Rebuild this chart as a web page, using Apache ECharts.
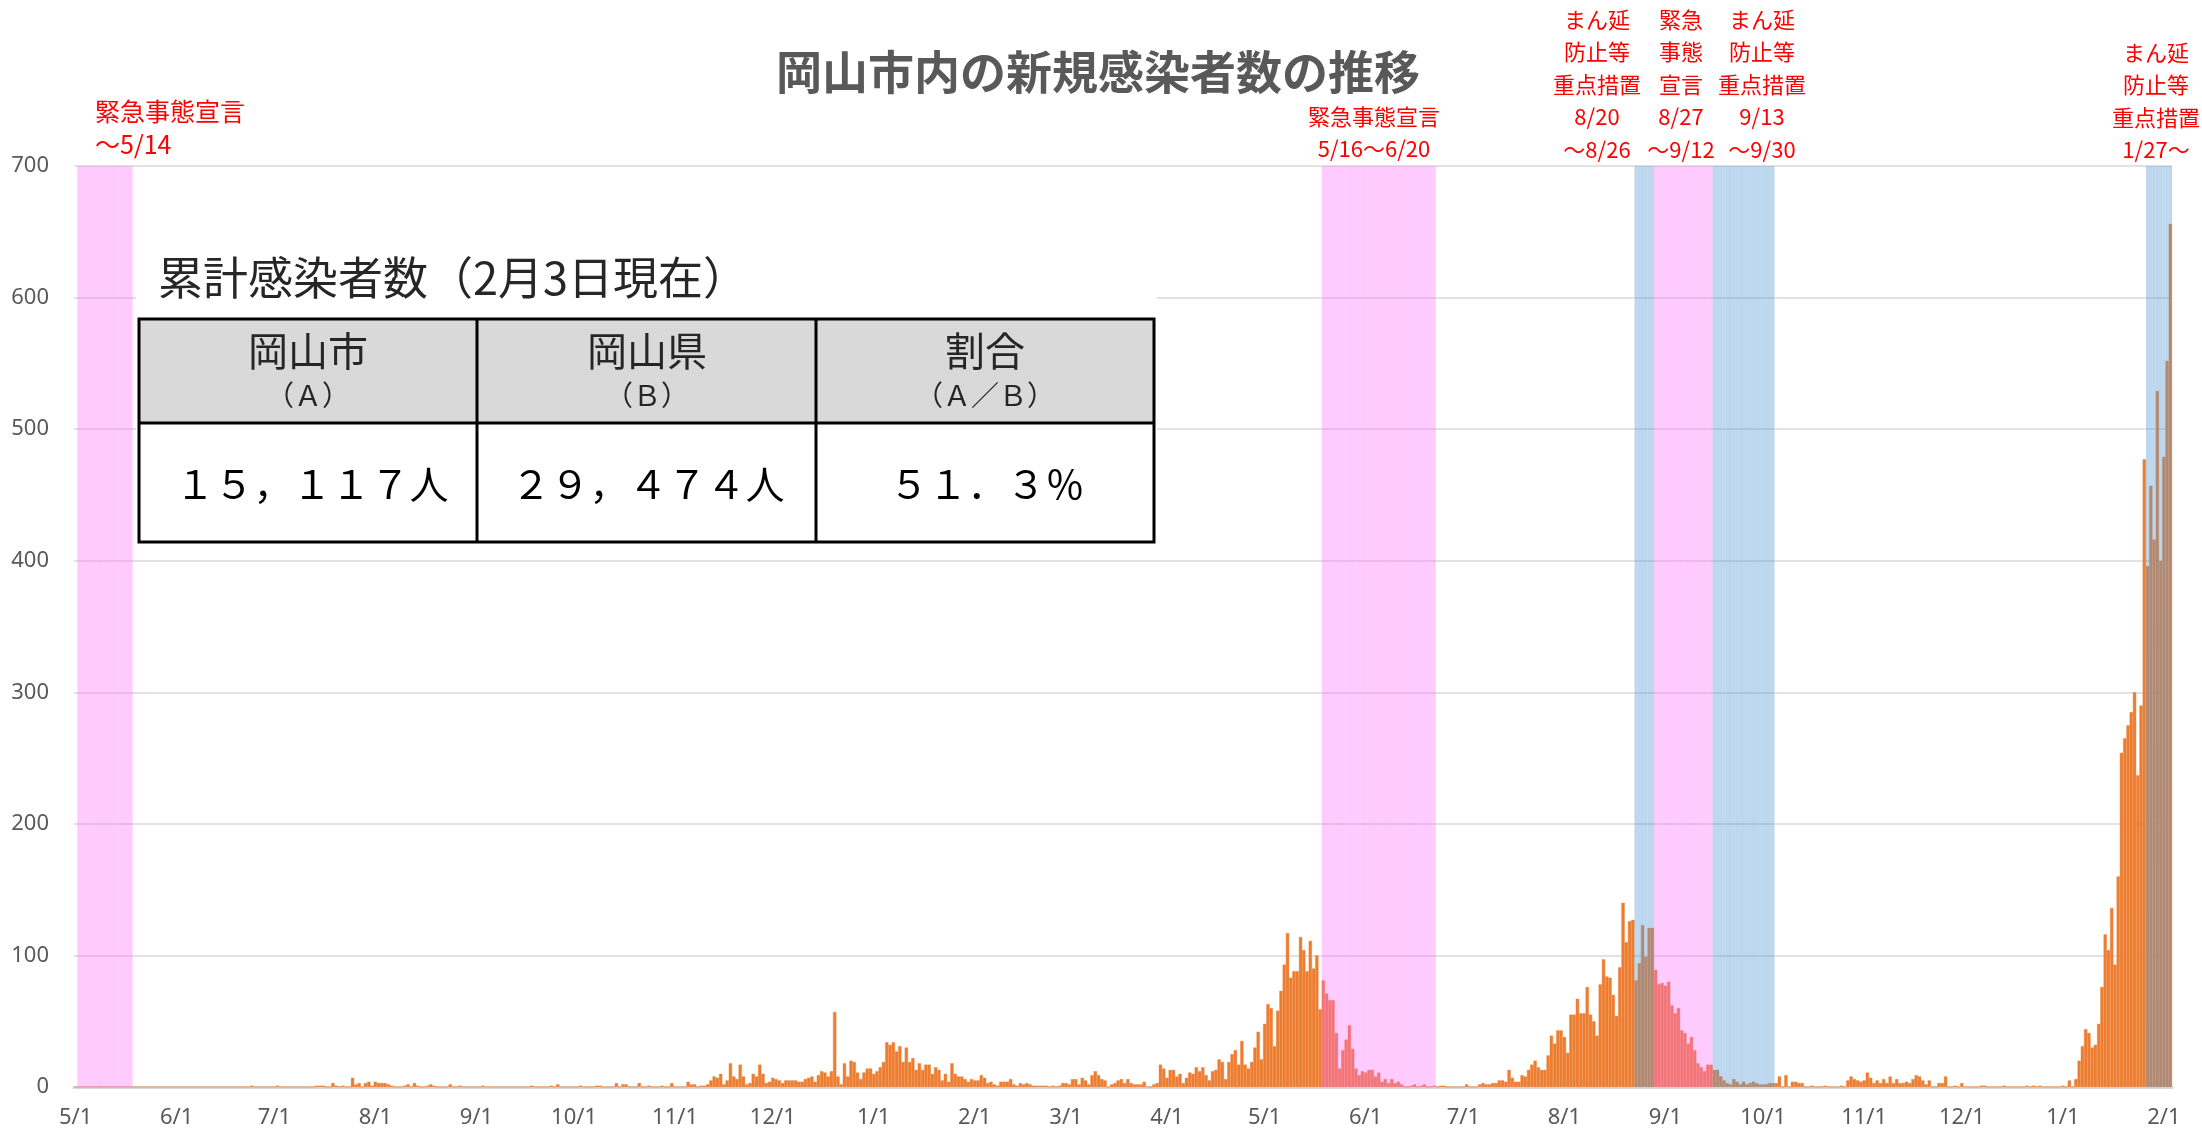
<!DOCTYPE html>
<html>
<head>
<meta charset="utf-8">
<script src="https://cdn.jsdelivr.net/npm/echarts@6/dist/echarts.min.js"></script>
<style>
  html, body { margin: 0; padding: 0; background: #fff; }
  #chart { width: 2202px; height: 1132px; }
</style>
</head>
<body>
<div id="chart"></div>
<script>
// 日別新規感染者数（岡山市）2020/5/1 〜 2022/2/3
const may2020 = [0,0,0,0,0,0,0,0,0,0, 0,0,0,0,0,0,0,0,0,0, 0,0,0,0,0,0,0,0,0,0, 0]
const jun2020 = [0,0,0,0,0,0,0,0,0,0, 0,0,0,0,0,0,0,0,0,0, 0,0,0,1,0,0,0,0,0,0]
const jul2020 = [0,1,0,0,0,0,0,0,0,0, 0,0,0,1,1,1,0,0,3,1, 0,1,0,0,7,2,3,0,3,4, 1]
const aug2020 = [4,3,3,3,2,1,0,0,0,1, 2,0,3,1,0,0,1,2,1,0, 0,0,0,2,0,0,1,0,0,0, 0]
const sep2020 = [0,0,1,0,0,0,0,0,0,0, 0,0,0,0,0,0,0,1,0,0, 0,0,0,1,0,2,0,0,0,0]
const oct2020 = [0,0,1,0,0,0,0,1,1,0, 0,0,0,3,0,2,2,0,0,0, 3,0,0,1,0,0,0,1,0,0, 3]
const nov2020 = [0,0,0,0,4,2,2,0,1,1, 2,5,8,7,10,2,5,18,8,6, 17,8,2,3,10,8,17,10,3,4]
const dec2020 = [7,6,5,3,5,5,5,5,4,4, 6,7,8,4,9,12,11,8,12,57, 8,2,18,8,20,19,11,6,11,14, 14]
const jan2021 = [10,12,15,19,34,32,34,27,31,19, 30,19,22,13,18,13,17,17,10,15, 13,5,10,4,18,10,8,8,6,4, 6]
const feb2021 = [5,5,9,7,3,4,2,1,4,4, 4,6,2,1,3,2,3,2,1,1, 1,1,1,0,1,0,1,3]
const mar2021 = [3,2,6,6,2,7,5,2,9,12, 9,6,5,0,2,3,5,6,3,6, 3,2,2,2,4,0,0,2,3,17, 14]
const apr2021 = [7,13,13,8,10,3,7,11,10,15, 12,15,9,5,12,13,21,19,6,19, 25,28,17,35,17,14,19,30,42,21]
const may2021 = [48,63,60,31,58,73,93,117,83,88, 88,114,104,88,111,90,100,59,81,71, 66,66,41,14,28,36,47,29,14,9, 12]
const jun2021 = [11,13,13,8,11,4,6,3,6,3, 4,2,0,0,1,2,0,1,2,0, 0,1,0,1,1,0,0,0,0,0]
const jul2021 = [0,2,0,0,0,2,3,2,2,3, 3,5,5,4,13,7,4,4,9,8, 13,17,20,15,13,13,24,39,33,43, 43]
const aug2021 = [38,26,55,55,67,56,56,76,55,50, 39,78,97,84,83,70,54,91,140,110, 126,127,81,94,123,99,121,121,89,78, 79]
const sep2021 = [77,80,62,56,60,43,41,33,38,28, 18,15,12,17,17,13,13,8,5,3, 2,6,4,2,4,2,3,4,3,2]
const oct2021 = [2,2,3,3,3,8,0,9,0,4, 4,3,3,0,0,1,0,0,0,1, 0,0,0,0,1,0,5,8,6,5, 4]
const nov2021 = [5,11,7,3,5,3,6,3,8,3, 6,3,3,4,3,6,9,8,5,2, 5,0,0,3,3,8,0,0,1,0]
const dec2021 = [3,0,0,0,0,0,1,1,0,0, 0,0,0,1,0,0,0,0,0,0, 1,0,1,0,1,0,0,0,0,0, 0]
const jan2022 = [1,0,5,0,6,20,31,44,41,30, 32,48,76,116,104,136,93,160,254,265, 275,285,300,237,290,477,396,457,416,529, 400]
const feb2022 = [479,552,656]

// 緊急事態宣言（ピンク）・まん延防止等重点措置（青）の期間
const pinkBands = [['2020/5/2', '2020/5/18'], ['2021/5/19', '2021/6/22'], ['2021/8/29', '2021/9/15']]
const blueBands = [['2021/8/23', '2021/8/28'], ['2021/9/16', '2021/10/4'], ['2022/1/27', '2022/2/3']]

const yTicks = [0, 100, 200, 300, 400, 500, 600, 700]

const daily = [].concat(may2020, jun2020, jul2020, aug2020, sep2020, oct2020, nov2020, dec2020,
  jan2021, feb2021, mar2021, apr2021, may2021, jun2021, jul2021, aug2021, sep2021, oct2021,
  nov2021, dec2021, jan2022, feb2022)

const dates = daily.map((_, i) => {
  const d = new Date(2020, 4, 1 + i)
  return d.getFullYear() + '/' + (d.getMonth() + 1) + '/' + d.getDate()
})

function bandData(ranges) {
  return dates.map((_, i) => {
    const hit = ranges.some(r => i >= dates.indexOf(r[0]) && i <= dates.indexOf(r[1]))
    return hit ? yTicks[yTicks.length - 1] : '-'
  })
}

const isMonthStart = (idx, val) => val.split('/')[2] === '1'
const jp = '"Noto Sans CJK JP", sans-serif'
const red = '#FF0000'

const chart = echarts.init(document.getElementById('chart'))
chart.setOption({
  animation: false,
  grid: { left: 74, right: 30, top: 166, bottom: 45 },
  xAxis: {
    type: 'category',
    data: dates,
    boundaryGap: true,
    axisLine: { lineStyle: { color: '#D9D9D9', width: 3 } },
    axisTick: { interval: isMonthStart, length: 7, lineStyle: { color: '#D9D9D9', width: 2 } },
    axisLabel: {
      interval: isMonthStart,
      formatter: v => v.split('/').slice(1).join('/'),
      color: '#595959', fontSize: 22, margin: 20, fontFamily: '"Noto Sans", sans-serif'
    }
  },
  yAxis: {
    type: 'value',
    min: yTicks[0],
    max: yTicks[yTicks.length - 1],
    interval: 100,
    axisLine: { show: false },
    axisTick: { show: false },
    axisLabel: { color: '#595959', fontSize: 22, margin: 25, fontFamily: '"Noto Sans", sans-serif' },
    splitLine: { lineStyle: { color: '#D9D9D9', width: 1.5 } }
  },
  series: [
    {
      name: '新規感染者数',
      type: 'bar',
      data: daily,
      barCategoryGap: '0%',
      barGap: '-100%',
      itemStyle: { color: '#ED7D31', borderColor: '#ED7D31', borderWidth: 0.4 }
    },
    {
      name: '緊急事態宣言',
      type: 'bar',
      data: bandData(pinkBands),
      barCategoryGap: '0%',
      barGap: '-100%',
      itemStyle: { color: 'rgba(255,102,255,0.35)' }
    },
    {
      name: 'まん延防止等重点措置',
      type: 'bar',
      data: bandData(blueBands),
      barCategoryGap: '0%',
      barGap: '-100%',
      itemStyle: { color: 'rgba(91,155,213,0.4)' }
    }
  ],
  graphic: [
    {
      type: 'text', z: 100, x: 1098, y: 72,
      style: { text: '岡山市内の新規感染者数の推移', font: 'bold 46px ' + jp, fill: '#595959',
        textAlign: 'center', textVerticalAlign: 'middle' }
    },
    // 注記
    { type: 'text', z: 100, x: 95, y: 95,
      style: { text: '緊急事態宣言\n～5/14', font: '25px ' + jp, fill: red, lineHeight: 33, textAlign: 'left', textVerticalAlign: 'top' } },
    { type: 'text', z: 100, x: 1374, y: 100,
      style: { text: '緊急事態宣言\n5/16～6/20', font: '22px ' + jp, fill: red, lineHeight: 32.5, textAlign: 'center', textVerticalAlign: 'top' } },
    { type: 'text', z: 100, x: 1597, y: 3,
      style: { text: 'まん延\n防止等\n重点措置\n8/20\n～8/26', font: '22px ' + jp, fill: red, lineHeight: 32.5, textAlign: 'center', textVerticalAlign: 'top' } },
    { type: 'text', z: 100, x: 1681, y: 3,
      style: { text: '緊急\n事態\n宣言\n8/27\n～9/12', font: '22px ' + jp, fill: red, lineHeight: 32.5, textAlign: 'center', textVerticalAlign: 'top' } },
    { type: 'text', z: 100, x: 1762, y: 3,
      style: { text: 'まん延\n防止等\n重点措置\n9/13\n～9/30', font: '22px ' + jp, fill: red, lineHeight: 32.5, textAlign: 'center', textVerticalAlign: 'top' } },
    { type: 'text', z: 100, x: 2156, y: 36,
      style: { text: 'まん延\n防止等\n重点措置\n1/27～', font: '22px ' + jp, fill: red, lineHeight: 32.5, textAlign: 'center', textVerticalAlign: 'top' } },
    // 累計表
    { type: 'rect', z: 100, shape: { x: 136, y: 245, width: 1021, height: 300 }, style: { fill: '#fff' } },
    { type: 'text', z: 101, x: 158, y: 278,
      style: { text: '累計感染者数（2月3日現在）', font: '45px ' + jp, fill: '#262626', textAlign: 'left', textVerticalAlign: 'middle' } },
    { type: 'rect', z: 101, shape: { x: 139, y: 319, width: 1015, height: 104 }, style: { fill: '#D9D9D9' } },
    { type: 'rect', z: 102, shape: { x: 139, y: 319, width: 1015, height: 223 }, style: { fill: 'none', stroke: '#000', lineWidth: 3 } },
    { type: 'line', z: 102, shape: { x1: 139, y1: 423, x2: 1154, y2: 423 }, style: { stroke: '#000', lineWidth: 3 } },
    { type: 'line', z: 102, shape: { x1: 477, y1: 319, x2: 477, y2: 542 }, style: { stroke: '#000', lineWidth: 3 } },
    { type: 'line', z: 102, shape: { x1: 816, y1: 319, x2: 816, y2: 542 }, style: { stroke: '#000', lineWidth: 3 } },
    { type: 'text', z: 103, x: 308, y: 351, style: { text: '岡山市', font: '40px ' + jp, fill: '#262626', textAlign: 'center', textVerticalAlign: 'middle' } },
    { type: 'text', z: 103, x: 647, y: 351, style: { text: '岡山県', font: '40px ' + jp, fill: '#262626', textAlign: 'center', textVerticalAlign: 'middle' } },
    { type: 'text', z: 103, x: 985, y: 351, style: { text: '割合', font: '40px ' + jp, fill: '#262626', textAlign: 'center', textVerticalAlign: 'middle' } },
    { type: 'text', z: 103, x: 308, y: 395, style: { text: '（Ａ）', font: '28px ' + jp, fill: '#262626', textAlign: 'center', textVerticalAlign: 'middle' } },
    { type: 'text', z: 103, x: 647, y: 395, style: { text: '（Ｂ）', font: '28px ' + jp, fill: '#262626', textAlign: 'center', textVerticalAlign: 'middle' } },
    { type: 'text', z: 103, x: 985, y: 395, style: { text: '（Ａ／Ｂ）', font: '28px ' + jp, fill: '#262626', textAlign: 'center', textVerticalAlign: 'middle' } },
    { type: 'text', z: 103, x: 312, y: 484, style: { text: '１５，１１７人', font: '39px ' + jp, fill: '#000', textAlign: 'center', textVerticalAlign: 'middle' } },
    { type: 'text', z: 103, x: 648, y: 484, style: { text: '２９，４７４人', font: '39px ' + jp, fill: '#000', textAlign: 'center', textVerticalAlign: 'middle' } },
    { type: 'text', z: 103, x: 987, y: 484, style: { text: '５１．３％', font: '39px ' + jp, fill: '#000', textAlign: 'center', textVerticalAlign: 'middle' } }
  ]
})
</script>
</body>
</html>
